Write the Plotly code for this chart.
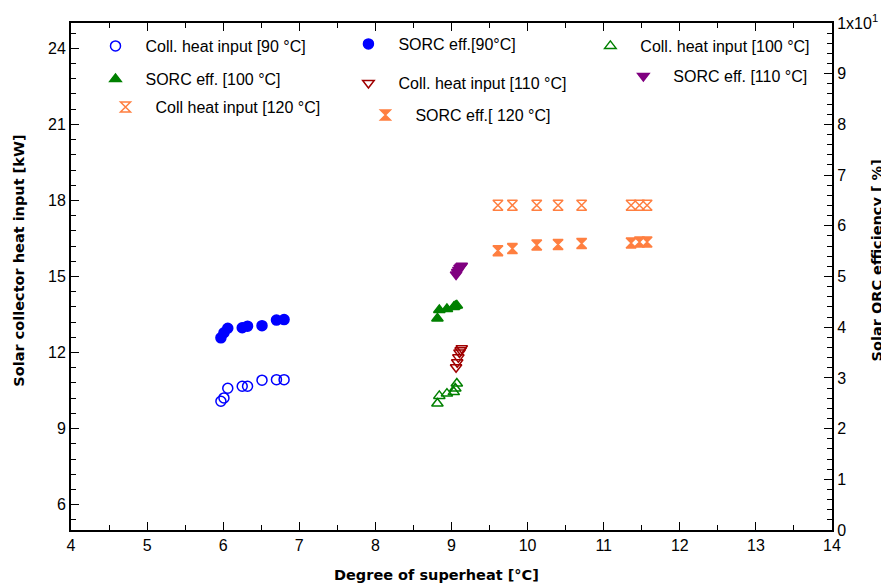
import plotly.graph_objects as go

# ---- data ----
x_90 = [5.97, 6.01, 6.06, 6.25, 6.32, 6.51, 6.70, 6.80]
coll_90 = [10.08, 10.21, 10.59, 10.67, 10.67, 10.91, 10.93, 10.93]
sorc_90 = [3.79, 3.89, 3.98, 3.99, 4.02, 4.03, 4.14, 4.15]

x_100 = [8.815, 8.84, 8.94, 9.03, 9.05, 9.07]
coll_100 = [9.99, 10.29, 10.38, 10.44, 10.58, 10.78]
sorc_100 = [4.17, 4.34, 4.36, 4.40, 4.42, 4.43]

x_110 = [9.06, 9.075, 9.09, 9.105, 9.12, 9.135]
coll_110 = [11.42, 11.62, 11.81, 12.00, 12.09, 12.17]
sorc_110 = [5.04, 5.09, 5.13, 5.17, 5.19, 5.21]

x_120 = [9.61, 9.80, 10.12, 10.40, 10.71, 11.36, 11.47, 11.57]
coll_120 = [17.81, 17.81, 17.81, 17.81, 17.81, 17.81, 17.81, 17.81]
sorc_120 = [5.51, 5.55, 5.62, 5.63, 5.65, 5.66, 5.68, 5.68]

x_ticks = list(range(4, 15))
y_left_ticks = [6, 9, 12, 15, 18, 21, 24]
y_right_ticks = list(range(0, 11))
y_right_text = [str(v) for v in range(0, 10)] + ["1x10<sup>1</sup>"]

names = [
    "Coll. heat input [90 °C]", "SORC eff.[90°C]", "Coll. heat input [100 °C]",
    "SORC eff. [100 °C]", "Coll. heat input [110 °C]", "SORC eff. [110 °C]",
    "Coll heat input [120 °C]", "SORC eff.[ 120 °C]",
]
x_title = "Degree of superheat [°C]"
y_title = "Solar collector heat input [kW]"
y2_title = "Solar ORC efficiency [ %]"

BLUE = "#0000FF"
GREEN = "#008000"
RED = "#A00000"
PURPLE = "#800080"
ORANGE = "#FF7F40"

FONT = "Liberation Sans, Arial, sans-serif"
TFONT = "DejaVu Sans, sans-serif"

fig = go.Figure()

def add(x, y, name, symbol, color, yaxis, legend):
    fig.add_trace(go.Scatter(
        x=x, y=y, name=name, mode="markers", yaxis=yaxis, legend=legend,
        marker=dict(symbol=symbol, size=10, color=color,
                    line=dict(color=color, width=1.5)),
    ))

add(x_90, coll_90, names[0], "circle-open", BLUE, "y", "legend")
add(x_90, sorc_90, names[1], "circle", BLUE, "y2", "legend2")
add(x_100, coll_100, names[2], "triangle-up-open", GREEN, "y", "legend3")
add(x_100, sorc_100, names[3], "triangle-up", GREEN, "y2", "legend4")
add(x_110, coll_110, names[4], "triangle-down-open", RED, "y", "legend5")
add(x_110, sorc_110, names[5], "triangle-down", PURPLE, "y2", "legend6")
add(x_120, coll_120, names[6], "hourglass-open", ORANGE, "y", "legend7")
add(x_120, sorc_120, names[7], "hourglass", ORANGE, "y2", "legend8")

OFF = 8  # page body margin
W, H = 889 - OFF, 585 - OFF
# plot area in page pixels
L, R, T, B = 70.5, 831.7, 23, 529.7
pw, ph = R - L, B - T

def px(xp):
    return (xp - L) / pw

def py(yp):
    return (B - yp) / ph

# text start x, row centre y (page pixels)
leg_pos = [(145, 46), (398, 44), (640, 46), (145, 79), (398, 83), (673, 76), (155, 107), (415, 115)]
legends = {}
for i, (tx, my) in enumerate(leg_pos):
    key = "legend" if i == 0 else f"legend{i+1}"
    legends[key] = dict(
        x=px(tx - 60), y=py(my), xanchor="left", yanchor="middle",
        bgcolor="rgba(0,0,0,0)", borderwidth=0, itemwidth=50,
        font=dict(family=FONT, size=16, color="black"),
    )

axis_common = dict(
    showline=True, linecolor="black", linewidth=2, ticks="inside",
    ticklen=8, tickwidth=1.2, tickcolor="black", showgrid=False, zeroline=False,
    automargin=False,
    tickfont=dict(family=FONT, size=16, color="black"),
)

tfont = dict(family=TFONT, size=14.5, color="black")
annotations = [
    dict(text=f"<b>{x_title}</b>", x=px(436), y=py(575), xref="paper", yref="paper",
         showarrow=False, font=tfont, xanchor="center", yanchor="middle"),
    dict(text=f"<b>{y_title}</b>", x=px(19), y=py(261), xref="paper", yref="paper",
         showarrow=False, font=tfont, textangle=-90, xanchor="center", yanchor="middle"),
    dict(text=f"<b>{y2_title}</b>", x=px(877), y=py(260), xref="paper", yref="paper",
         showarrow=False, font=tfont, textangle=-90, xanchor="center", yanchor="middle"),
]

fig.update_layout(
    width=W, height=H,
    margin=dict(l=L - OFF, r=W - (R - OFF), t=T - OFF, b=H - (B - OFF), pad=0),
    paper_bgcolor="white", plot_bgcolor="white",
    showlegend=True,
    annotations=annotations,
    **legends,
    xaxis=dict(
        range=[4, 14], tickvals=x_ticks, mirror="ticks",
        minor=dict(dtick=0.5, ticks="inside", ticklen=5, tickcolor="black"),
        **axis_common,
    ),
    yaxis=dict(
        range=[5, 25], tickvals=y_left_ticks,
        minor=dict(dtick=0.6, tick0=0, ticks="inside", ticklen=5, tickcolor="black"),
        **axis_common,
    ),
    yaxis2=dict(
        range=[0, 10], overlaying="y", side="right",
        tickvals=y_right_ticks, ticktext=y_right_text,
        minor=dict(dtick=0.2, ticks="inside", ticklen=5, tickcolor="black"),
        **axis_common,
    ),
)

fig.write_html("out.html")
